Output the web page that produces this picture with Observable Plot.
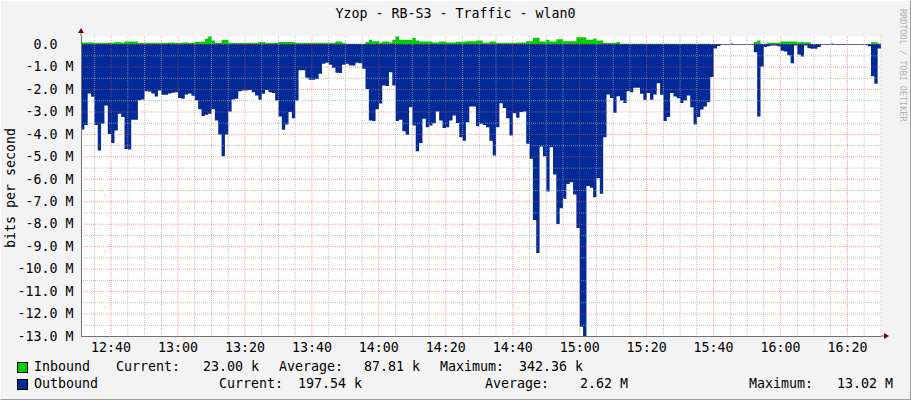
<!DOCTYPE html>
<html><head><meta charset="utf-8">
<script src="https://cdn.jsdelivr.net/npm/d3@7"></script>
<script src="https://cdn.jsdelivr.net/npm/@observablehq/plot@0.6"></script>
<style>
html,body{margin:0;padding:0;}
body{width:911px;height:400px;background:#f3f3f3;position:relative;overflow:hidden;font-family:"DejaVu Sans Mono",monospace;font-size:13.3px;color:#000;}
#bevel{position:absolute;left:0;top:0;width:909px;height:398px;border-top:1px solid #fff;border-left:1px solid #fff;border-right:1px solid #9c9c9c;border-bottom:1px solid #9c9c9c;}
.t{position:absolute;white-space:pre;line-height:14px;}
#chart{position:absolute;left:0;top:24px;}
svg text{white-space:pre;}
.sw{position:absolute;width:9px;height:9px;border:1px solid #000;}
</style>
</head><body>
<div id="bevel"></div>
<div class="t" id="title" style="left:0;width:911px;text-align:center;top:7px;">Yzop - RB-S3 - Traffic - wlan0</div>
<div class="t" style="left:-49px;top:181px;width:120px;text-align:center;transform:rotate(-90deg);">bits per second</div>
<div class="t" style="left:848px;top:57px;width:110px;font-size:8.5px;color:#b0b0b0;transform:rotate(90deg);">RRDTOOL / TOBI OETIKER</div>
<div id="chart"></div>
<div id="legend"></div>
<script>
// ---- data (bits per second, in M) sampled once per minute from 12:31:10 ----
const seriesNames = ["Inbound", "Outbound"];
const seriesColors = ["#00CC00", "#002A97"];
const outbound = [
 3.80,3.6,2.2,2.35,3.6,4.74,3.55,2.73,4.0,4.41,
 3.85,3.1,3.25,4.67,4.7,3.37,3.37,2.5,2.47,2.1,
 2.11,2.2,2.33,2.07,2.26,2.26,2.2,2.17,2.15,2.4,
 2.44,2.25,2.2,2.3,2.5,2.9,3.2,3.15,3.1,2.9,
 3.4,4.03,4.99,4.03,3.0,2.47,2.44,2.1,2.07,2.07,
 2.04,2.14,2.29,2.48,2.21,2.04,2.14,2.18,2.51,3.22,
 3.82,3.58,3.03,3.3,2.51,1.17,1.17,1.5,1.59,1.59,
 1.55,1.32,0.88,0.83,0.92,1.05,1.28,1.29,0.92,0.88,
 0.95,0.95,0.83,0.85,1.1,2.0,3.4,3.43,2.9,2.65,
 1.84,1.87,1.25,1.84,3.43,3.37,3.88,4.04,2.81,3.63,
 4.77,4.41,3.33,3.7,3.63,3.52,3.0,3.4,3.74,3.7,
 3.4,3.18,3.51,4.15,4.31,3.48,2.78,2.78,3.66,3.55,
 3.6,3.7,4.3,4.96,3.7,2.63,2.85,3.3,4.07,3.08,
 3.28,3.03,3.0,4.44,5.11,7.83,9.3,4.56,5.0,6.57,
 4.59,5.81,8.01,7.31,6.89,6.23,6.15,6.7,8.19,12.59,
 13.02,6.32,6.4,6.82,5.97,6.67,4.15,2.24,2.4,3.06,
 2.32,2.51,2.62,2.1,2.14,1.95,1.95,2.21,2.48,2.18,
 2.48,2.24,1.74,2.26,3.43,3.25,2.18,2.33,2.41,2.62,
 2.51,2.29,2.81,3.58,3.25,2.91,2.78,2.59,1.47,0.2,
 0.08,0.03,0.03,0.03,0.03,0.03,0.03,0.03,0.03,0.03,
 0.03,0.36,3.22,1.0,0.13,0.1,0.06,0.06,0.1,0.3,
 0.33,0.5,0.85,0.06,0.46,0.55,0.06,0.18,0.21,0.21,
 0.13,0.03,0.03,0.03,0.03,0.03,0.03,0.03,0.03,0.03,
 0.03,0.03,0.03,0.03,0.03,0.1,1.43,1.77,0.2
];
const inbound = [
 0.075,0.075,0.075,0.075,0.05,0.05,0.05,0.05,0.06,0.06,
 0.08,0.08,0.06,0.12,0.12,0.12,0.12,0.05,0.05,0.05,
 0.05,0.05,0.05,0.05,0.05,0.05,0.075,0.075,0.05,0.05,
 0.075,0.075,0.05,0.05,0.1,0.1,0.1,0.24,0.34,0.16,
 0.05,0.05,0.19,0.19,0.06,0.05,0.05,0.05,0.05,0.05,
 0.05,0.05,0.05,0.09,0.09,0.05,0.05,0.05,0.05,0.09,
 0.09,0.09,0.09,0.09,0.05,0.05,0.05,0.05,0.05,0.05,
 0.05,0.05,0.05,0.05,0.05,0.05,0.12,0.12,0.05,0.02,
 0.02,0.02,0.02,0.02,0.02,0.09,0.19,0.13,0.13,0.06,
 0.12,0.12,0.075,0.19,0.34,0.19,0.19,0.19,0.19,0.28,
 0.16,0.12,0.12,0.12,0.12,0.075,0.075,0.12,0.12,0.075,
 0.075,0.075,0.1,0.1,0.1,0.13,0.13,0.13,0.16,0.16,
 0.06,0.06,0.12,0.12,0.045,0.045,0.045,0.045,0.045,0.045,
 0.075,0.075,0.075,0.13,0.13,0.28,0.28,0.12,0.12,0.19,
 0.12,0.12,0.21,0.21,0.13,0.13,0.13,0.13,0.3,0.3,
 0.3,0.19,0.19,0.25,0.16,0.16,0.045,0.045,0.045,0.045,
 0.09,0.02,0.02,0.02,0.02,0.02,0.02,0.02,0.02,0.02,
 0.02,0.02,0.02,0.02,0.02,0.02,0.02,0.02,0.02,0.02,
 0.02,0.02,0.02,0.02,0.02,0.02,0.02,0.02,0,0,
 0,0,0,0,0.03,0,0,0,0,0,
 0,0.09,0.16,0.02,0.02,0.06,0.06,0.06,0.06,0.12,
 0.12,0.12,0.12,0.12,0.08,0.08,0.08,0.08,0,0,
 0,0,0,0,0.03,0,0,0,0,0,
 0,0,0,0,0,0,0.08,0.08,0.023
];
const startTime = "12:31:10";
const endTime = "16:30:10";
const stepMinutes = 1;
const xTickLabels = ["12:40","13:00","13:20","13:40","14:00","14:20","14:40","15:00","15:20","15:40","16:00","16:20"];
const yTicks = [0,-1,-2,-3,-4,-5,-6,-7,-8,-9,-10,-11,-12,-13];
const yTop = 0.36;
const legendStats = [
  ["Current:","23.00 k","Average:","87.81 k","Maximum:","342.36 k"],
  ["Current:","197.54 k","Average:","2.62 M","Maximum:","13.02 M"]
];

// ---- helpers ----
const toDate = s => { const [h,m,sec] = s.split(":").map(Number); return new Date(Date.UTC(2024,0,1,h,m,sec||0)); };
const t0 = toDate(startTime), t1 = toDate(endTime);
const rows = outbound.map((o,i)=>({t:new Date(+t0 + i*stepMinutes*60000), inb: inbound[i], out: -o}));
const lastRow = rows[rows.length-1];
rows.push({t: new Date(+t0 + rows.length*stepMinutes*60000), inb: lastRow.inb, out: lastRow.out});

const majorX = xTickLabels.map(s=>toDate(s));
const minorX = d3.utcMinute.every(5).range(t0, t1).filter(d => d.getUTCMinutes() % 20 !== 0);
const minorY = yTicks.slice(0,-1).map(v=>v-0.5);
const fmtY = v => v===0 ? "0.0  " : v.toFixed(1)+" M";

const plot = Plot.plot({
  width: 911, height: 334,
  marginLeft: 81, marginRight: 30, marginTop: 12, marginBottom: 22,
  style: {fontFamily: '"DejaVu Sans Mono", monospace', fontSize: "13.3px", background: "transparent", overflow: "visible", color: "#000"},
  x: {type: "utc", domain: [t0, t1]},
  y: {domain: [-13, yTop]},
  marks: [
    Plot.frame({fill: "white", stroke: null}),
    Plot.areaY(rows, {x: "t", y: "inb", fill: seriesColors[0], curve: "step-after"}),
    Plot.areaY(rows, {x: "t", y: "out", fill: seriesColors[1], curve: "step-after"}),
    Plot.ruleX(minorX, {stroke: "#a8a8a8", strokeDasharray: "1,1", strokeOpacity: 0.7}),
    Plot.ruleY(minorY, {stroke: "#a8a8a8", strokeDasharray: "1,1", strokeOpacity: 0.7}),
    Plot.ruleX(majorX, {stroke: "#ff5050", strokeDasharray: "1,1", strokeOpacity: 0.55}),
    Plot.ruleY(yTicks, {stroke: "#ff5050", strokeDasharray: "1,1", strokeOpacity: 0.55}),
    Plot.axisX({ticks: majorX, tickSize: 0, tickPadding: 6, tickFormat: d3.utcFormat("%H:%M"), label: null}),
    Plot.axisY({ticks: yTicks, tickSize: 0, tickPadding: 8, tickFormat: fmtY, label: null}),
    Plot.ruleX([t0], {stroke: "#707070"}),
    Plot.ruleY([-13], {stroke: "#707070"})
  ]
});
document.getElementById("chart").appendChild(plot);

// axis arrows (positions from the plot's own scales)
const sx = plot.scale("x"), sy = plot.scale("y");
const svg = d3.select(plot);
const ax = sx.apply(t0), ayTop = sy.apply(yTop), ayBot = sy.apply(-13), axRight = sx.apply(t1);
svg.append("line").attr("x1", ax).attr("x2", ax).attr("y1", ayTop).attr("y2", ayTop-4).attr("stroke","#707070");
svg.append("path").attr("d", `M${ax-3},${ayTop-3}L${ax+3},${ayTop-3}L${ax},${ayTop-8}Z`).attr("fill","#7f0000");
svg.append("line").attr("x1", axRight).attr("x2", axRight+4).attr("y1", ayBot).attr("y2", ayBot).attr("stroke","#707070");
svg.append("path").attr("d", `M${axRight+3},${ayBot-3}L${axRight+3},${ayBot+3}L${axRight+8},${ayBot}Z`).attr("fill","#7f0000");

// legend
const leg = document.getElementById("legend");
const rowTop = [360, 377];
const rowX = [[116,203,279,364,440,519],[219,298,485,580,749,837]];
seriesNames.forEach((name,i)=>{
  const sw = document.createElement("div"); sw.className="sw";
  sw.style.left="17px"; sw.style.top=(rowTop[i]+2)+"px"; sw.style.background=seriesColors[i];
  leg.appendChild(sw);
  const n = document.createElement("div"); n.className="t"; n.textContent=name;
  n.style.left="34px"; n.style.top=rowTop[i]+"px"; leg.appendChild(n);
  legendStats[i].forEach((s,j)=>{
    const d = document.createElement("div"); d.className="t"; d.textContent=s;
    d.style.left=rowX[i][j]+"px"; d.style.top=rowTop[i]+"px"; leg.appendChild(d);
  });
});
</script>
</body></html>
